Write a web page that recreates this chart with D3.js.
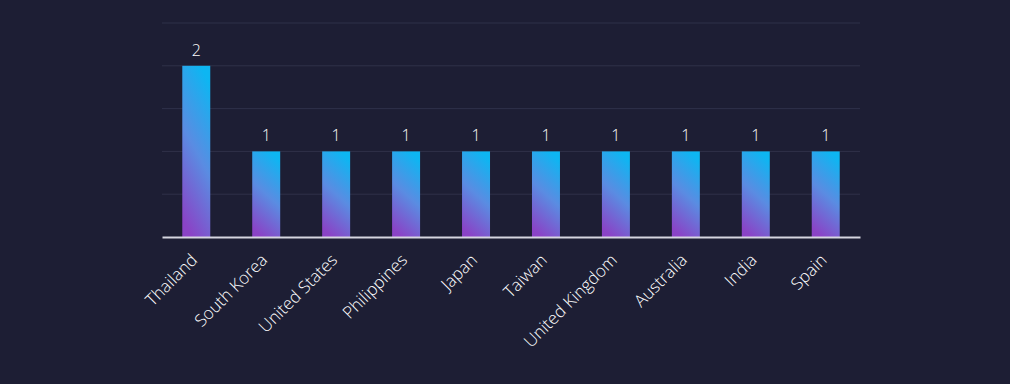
<!DOCTYPE html>
<html>
<head>
<meta charset="utf-8">
<script src="https://cdn.jsdelivr.net/npm/d3@7"></script>
<style>
  html, body { margin: 0; padding: 0; background: #1d1e34; }
  text { font-family: "Open Sans", "DejaVu Sans", sans-serif; font-weight: 300; }
</style>
</head>
<body>
<script>
// chart data
var countries = ["Thailand", "South Korea", "United States", "Philippines", "Japan",
                 "Taiwan", "United Kingdom", "Australia", "India", "Spain"];
var counts = [2, 1, 1, 1, 1, 1, 1, 1, 1, 1];
var yTicks = [0, 0.5, 1, 1.5, 2, 2.5];

var W = 1010, H = 384;
var margin = {top: 23, right: 150, bottom: 147, left: 162},
    width = W - margin.left - margin.right,
    height = H - margin.top - margin.bottom;

var data = countries.map(function(c, i) { return {name: c, value: counts[i]}; });

var svg = d3.select("body")
    .append("svg")
    .attr("width", W)
    .attr("height", H)
    .style("display", "block");

svg.append("rect").attr("width", W).attr("height", H).attr("fill", "#1d1e34");

var defs = svg.append("defs");
var grad = defs.append("linearGradient")
    .attr("id", "barGrad")
    .attr("x1", 0.35).attr("y1", 1)
    .attr("x2", 0.65).attr("y2", 0);
grad.append("stop").attr("offset", "0%").attr("stop-color", "#8a43c6");
grad.append("stop").attr("offset", "50%").attr("stop-color", "#5a8ce2");
grad.append("stop").attr("offset", "100%").attr("stop-color", "#0db6f2");

var g = svg.append("g")
    .attr("transform", "translate(" + margin.left + "," + margin.top + ")");

var x = d3.scaleBand()
    .domain(countries)
    .range([0, width])
    .paddingInner(0.6)
    .paddingOuter(0.29);

var y = d3.scaleLinear()
    .domain([0, 2.5])
    .range([height, 0]);

// gridlines
g.append("g")
    .selectAll("line")
    .data(yTicks.slice(1))
    .enter().append("line")
    .attr("x1", 0).attr("x2", width)
    .attr("y1", function(d) { return y(d); })
    .attr("y2", function(d) { return y(d); })
    .attr("stroke", "#2f3149")
    .attr("stroke-width", 1);

// bars
g.append("g")
    .selectAll("rect")
    .data(data)
    .enter().append("rect")
    .attr("x", function(d) { return x(d.name); })
    .attr("y", function(d) { return y(d.value); })
    .attr("width", x.bandwidth())
    .attr("height", function(d) { return height - y(d.value); })
    .attr("fill", "url(#barGrad)");

// value labels
g.append("g")
    .selectAll("text")
    .data(data)
    .enter().append("text")
    .attr("x", function(d) { return x(d.name) + x.bandwidth() / 2; })
    .attr("y", function(d) { return y(d.value) - 10; })
    .attr("text-anchor", "middle")
    .attr("fill", "#ffffff")
    .style("font-size", "16px")
    .text(function(d) { return d.value; });

// x axis
var xAxis = g.append("g")
    .attr("transform", "translate(0," + height + ")")
    .call(d3.axisBottom(x).tickSize(0).tickPadding(0));
xAxis.select(".domain")
    .attr("stroke", "#d6d6e0")
    .attr("stroke-width", 2);
xAxis.selectAll("text")
    .attr("fill", "#ffffff")
    .style("font-size", "17px")
    .attr("text-anchor", "end")
    .attr("dy", "0.35em")
    .attr("transform", "translate(-2,20) rotate(-45)");
</script>
</body>
</html>
